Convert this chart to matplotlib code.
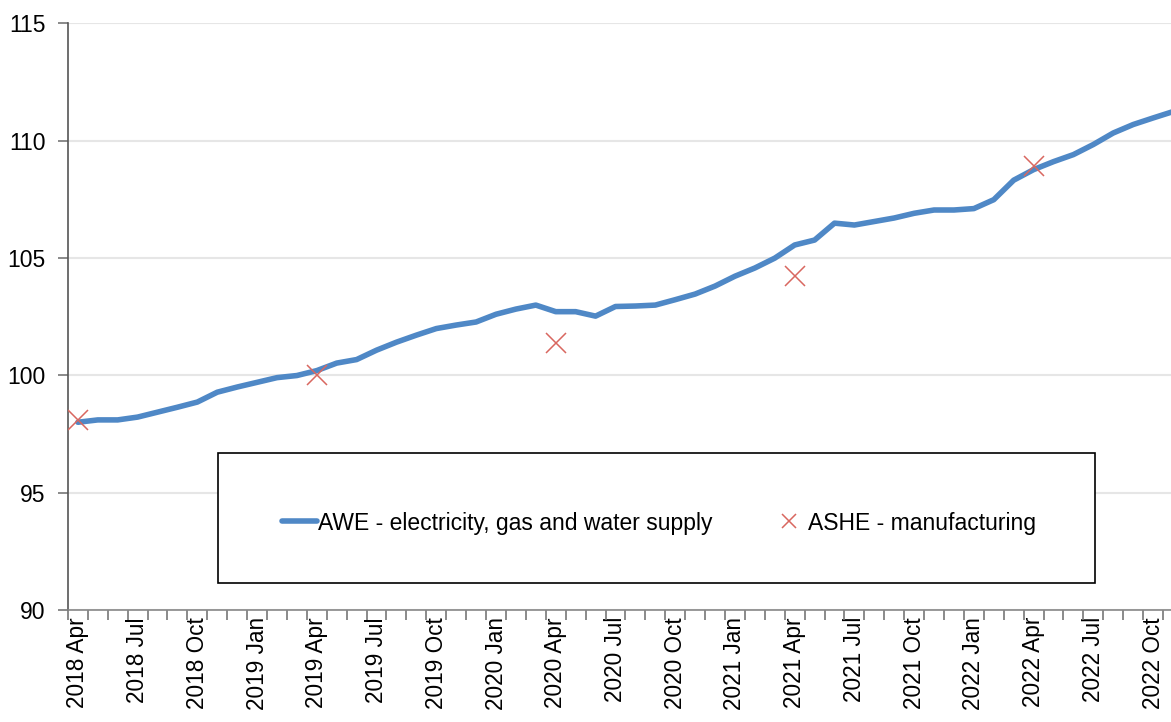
import matplotlib
matplotlib.use('Agg')
import numpy as np
import matplotlib.pyplot as plt
from matplotlib.patches import Rectangle

plt.rcParams['font.family'] = ['Liberation Sans', 'DejaVu Sans']

# monthly categories, 2018 Apr .. 2022 Nov
years = [2018] * 9 + [2019] * 12 + [2020] * 12 + [2021] * 12 + [2022] * 11
month_names = ['Jan', 'Feb', 'Mar', 'Apr', 'May', 'Jun',
               'Jul', 'Aug', 'Sep', 'Oct', 'Nov', 'Dec']
months = month_names[3:] + month_names * 3 + month_names[:11]
labels = ['%d %s' % (y, m) for y, m in zip(years, months)]

awe = [98.0, 98.1, 98.1, 98.22, 98.43, 98.64, 98.86, 99.28, 99.5, 99.7,
       99.9, 99.99, 100.2, 100.52, 100.67, 101.07, 101.41, 101.71, 101.99, 102.14,
       102.27, 102.6, 102.82, 102.99, 102.71, 102.71, 102.52, 102.93, 102.95, 102.99,
       103.22, 103.46, 103.8, 104.22, 104.57, 104.99, 105.55, 105.76, 106.48, 106.4,
       106.55, 106.7, 106.9, 107.04, 107.04, 107.1, 107.48, 108.31, 108.76, 109.1,
       109.4, 109.83, 110.32, 110.68, 110.96, 111.23]

ashe_idx = [0, 12, 24, 36, 48]
ashe = [98.1, 100.02, 101.38, 104.25, 108.92]

fig = plt.figure(figsize=(11.71, 7.22), dpi=100)
ax = fig.add_axes([0.058, 0.155, 0.942, 0.813])

x = np.arange(len(awe))
ax.plot(x, awe, color='#4f88c6', lw=4, solid_capstyle='round',
        label='AWE - electricity, gas and water supply', zorder=3)
ax.plot(ashe_idx, ashe, ls='none', marker='x', ms=14, mew=1.1,
        color='#d9675f', label='ASHE - manufacturing', zorder=4)

ax.set_ylim(90, 115)
ax.set_yticks([90, 95, 100, 105, 110, 115])
ax.set_xlim(-0.5, 54.9)

tick_pos = x[::3]
ax.set_xticks(tick_pos)
ax.set_xticklabels([labels[i] for i in tick_pos], rotation=90, va='top', ha='center')
ax.set_xticks(np.arange(len(awe)) - 0.5, minor=True)
ax.tick_params(axis='x', which='major', length=0, pad=5, labelsize=16.3)
ax.tick_params(axis='x', which='minor', length=7, width=1.2, color='#777777')
ax.tick_params(axis='y', length=7, width=1.2, color='#777777', labelsize=16.5, pad=9)

ax.grid(axis='y', color='#e6e6e6', lw=1.5)
ax.set_axisbelow(True)
for s in ['top', 'right']:
    ax.spines[s].set_visible(False)
ax.spines['left'].set_color('#555555')
ax.spines['bottom'].set_color('#888888')
ax.spines['left'].set_linewidth(1.2)
ax.spines['bottom'].set_linewidth(1.2)

# legend box
fig.patches.append(Rectangle((0.186, 0.1925), 0.749, 0.18, transform=fig.transFigure,
                             fill=True, facecolor='white', edgecolor='black', lw=1.2,
                             zorder=5))
leg = fig.legend(loc='center', bbox_to_anchor=(0.5628, 0.2756), ncol=2, frameon=False,
                 fontsize=16.5, handlelength=1.5, handletextpad=0.05, columnspacing=2.6)
leg.set_zorder(6)
leg.legend_handles[1].set_markersize(10)

fig.savefig('out.png', dpi=100)
